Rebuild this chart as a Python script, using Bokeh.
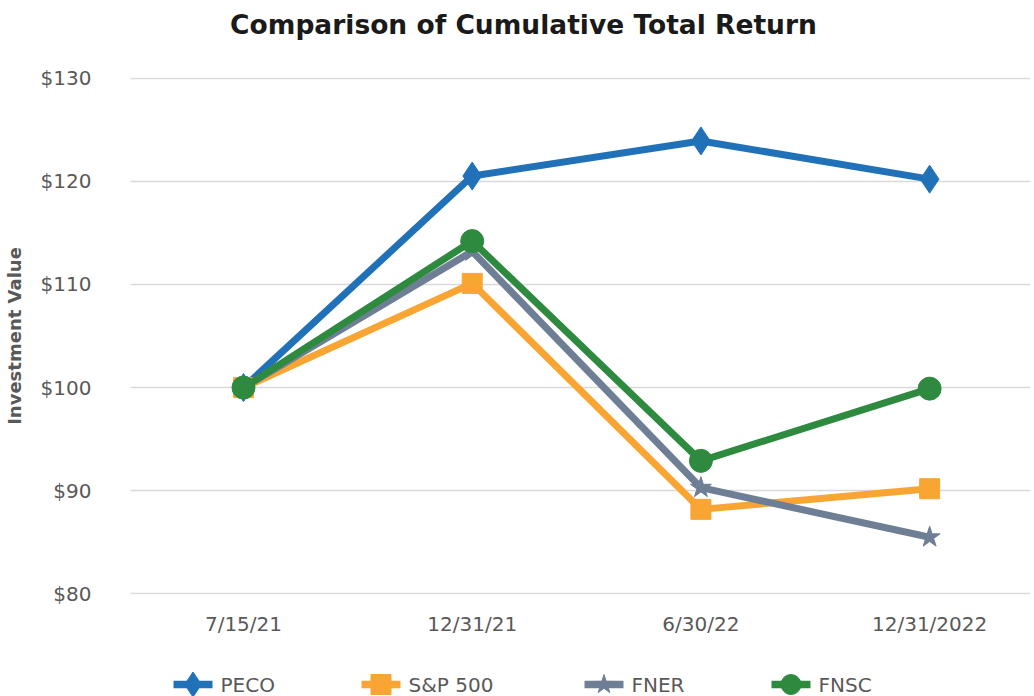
from bokeh.plotting import figure
from bokeh.models import FixedTicker
from bokeh.layouts import column
from bokeh.embed import file_html
from bokeh.resources import INLINE
from bokeh.core.properties import value

dates = ["7/15/21", "12/31/21", "6/30/22", "12/31/2022"]
peco = [100.0, 120.5, 123.9, 120.2]
sp500 = [100.0, 110.1, 88.2, 90.2]
fner = [100.0, 113.2, 90.3, 85.5]
fnsc = [100.0, 114.2, 92.9, 99.9]
y_ticks = [80, 90, 100, 110, 120, 130]
title_text = "Comparison of Cumulative Total Return"

FONT = "DejaVu Sans"
GREY = "#595959"
xs = list(range(len(dates)))


def strip(height):
    # a blank figure whose frame is aligned with the chart frame (page x 130..1030)
    s = figure(width=1030, height=height, output_backend="svg", toolbar_location=None,
               x_range=(130, 1030), y_range=(0, height),
               min_border_left=0, min_border_right=0, min_border_top=0, min_border_bottom=0)
    s.axis.visible = False
    s.grid.visible = False
    s.outline_line_color = None
    return s


# title strip
top = strip(50)
top.text([523], [26], text=[title_text], text_font=value(FONT), text_font_style="bold",
         text_font_size="26.5px", text_color="#1a1a1a", text_align="center",
         text_baseline="middle")

p = figure(width=1030, height=600, output_backend="svg", toolbar_location=None,
           x_range=(-0.494, 3.441), y_range=(79.95, 130.05),
           min_border_left=130, min_border_right=0, min_border_top=27, min_border_bottom=56)
p.outline_line_color = None
p.xgrid.grid_line_color = None
p.ygrid.grid_line_color = "#d9d9d9"
p.ygrid.grid_line_width = 1.5

p.yaxis.ticker = FixedTicker(ticks=y_ticks)
p.yaxis.major_label_overrides = {v: "$%d" % v for v in y_ticks}
p.xaxis.ticker = FixedTicker(ticks=xs)
p.xaxis.major_label_overrides = {i: d for i, d in enumerate(dates)}
for ax in (p.xaxis, p.yaxis):
    ax.axis_line_color = None
    ax.major_tick_line_color = None
    ax.minor_tick_line_color = None
    ax.major_label_text_font = FONT
    ax.major_label_text_font_size = "20px"
    ax.major_label_text_color = GREY
p.xaxis.major_label_standoff = 11
p.yaxis.major_label_standoff = 33
p.yaxis.axis_label = "Investment Value"
p.yaxis.axis_label_text_font = FONT
p.yaxis.axis_label_text_font_style = "bold"
p.yaxis.axis_label_text_font_size = "18px"
p.yaxis.axis_label_text_color = GREY
p.yaxis.axis_label_standoff = 13

names = ["PECO", "S&P 500", "FNER", "FNSC"]
values = [peco, sp500, fner, fnsc]
colors = ["#2171B9", "#F9A533", "#6E7F95", "#2E8A3E"]
markers = ["diamond", "square", "star", "circle"]
sizes = [28, 20, 22, 23]
legend_sizes = [25, 20, 20, 20]

for vals, col, mk, sz in zip(values, colors, markers, sizes):
    p.line(xs, vals, line_color=col, line_width=7)
    p.scatter(xs, vals, marker=mk, size=sz, fill_color=col, line_color=col)

# legend strip below the chart
leg = strip(46)
leg_x = [173, 361, 584, 771]
leg_y = 12
for x0, name, col, mk, sz in zip(leg_x, names, colors, markers, legend_sizes):
    leg.line([x0, x0 + 39], [leg_y, leg_y], line_color=col, line_width=7.5)
    leg.scatter([x0 + 19.5], [leg_y], marker=mk, size=sz, fill_color=col, line_color=col)
    leg.text([x0 + 47], [leg_y], text=[name], text_font=value(FONT), text_font_size="20px",
             text_color=GREY, text_baseline="middle", text_align="left")

open("out.html", "w").write(file_html(column(top, p, leg), INLINE))
